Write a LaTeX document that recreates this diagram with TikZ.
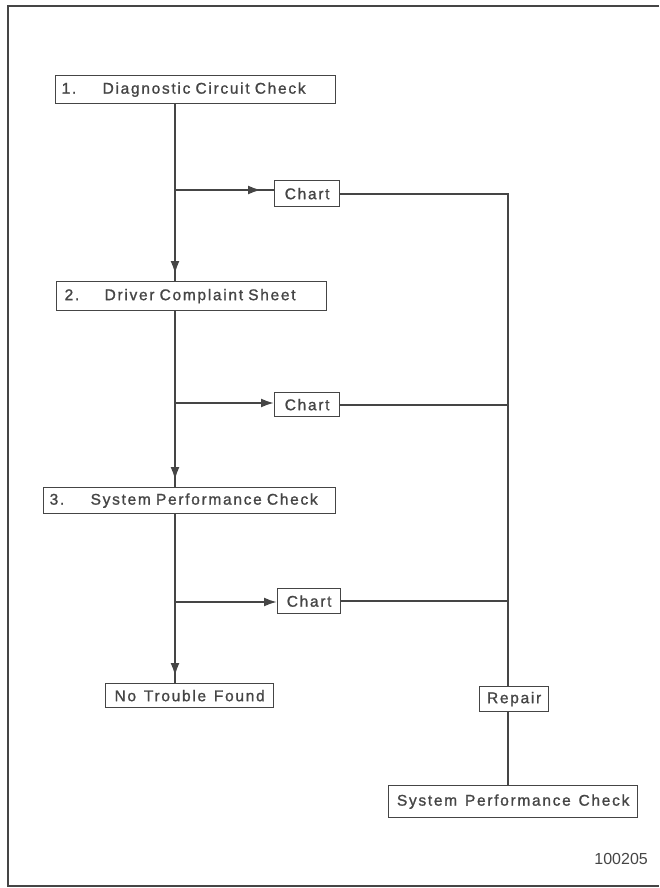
\documentclass[tikz,border=0pt]{standalone}
\usepackage{fontspec}
\setmainfont{Liberation Sans}[LetterSpace=11, FakeBold=1.2, WordSpace=1.3]
\newfontfamily\numfont{Liberation Sans}
\usetikzlibrary{arrows.meta,calc}
\definecolor{ink}{HTML}{454545}
\tikzset{
  box/.style={draw=ink, line width=1.3pt, text=ink, inner ysep=0pt, inner xsep=6pt,
    font=\fontsize{15.5}{17}\selectfont, anchor=north west},
  numbox/.style={box, align=left},
  conn/.style={draw=ink, line width=2pt},
  thin/.style={draw=ink, line width=1.8pt},
  tip/.style={conn, -{Latex[length=13pt,width=9pt]}},
}
\begin{document}
\begin{tikzpicture}[x=1pt,y=-1pt]
\useasboundingbox (0,0) rectangle (659,888);
% frame
\draw[ink, line width=1.6pt] (659,6) -- (8,6) -- (8,886) -- (659,886);
% guide coordinates
\coordinate (mx) at (175,0);
\coordinate (rx) at (508,0);
\coordinate (j1) at (175,190);
\coordinate (j2) at (175,403);
\coordinate (j3) at (175,602);
% numbered boxes
\node[numbox, text width=268pt, minimum height=28pt] (b1) at (55,75)
  {\makebox[41pt][l]{1.}Diagnostic Circuit Check};
\node[numbox, text width=254pt, minimum height=29pt, inner xsep=8pt] (b2) at (56,281)
  {\makebox[40pt][l]{2.}Driver Complaint Sheet};
\node[numbox, text width=280pt, minimum height=26pt] (b3) at (43,487)
  {\makebox[41pt][l]{3.}System Performance Check};
% chart boxes
\node[box, inner xsep=0pt, minimum width=65pt, minimum height=26pt] (c1) at (274,180) {Chart};
\node[box, inner xsep=0pt, minimum width=65pt, minimum height=24pt] (c2) at (274,392) {Chart};
\node[box, inner xsep=0pt, minimum width=63pt, minimum height=25pt] (c3) at (277,588) {Chart};
% end boxes
\node[box, inner xsep=0pt, minimum width=168pt, minimum height=24pt] (ntf) at (105,683) {No Trouble Found};
\node[box, inner xsep=0pt, minimum width=69pt, minimum height=25pt] (rep) at (479,686) {Repair};
\node[box, inner xsep=0pt, minimum width=249pt, minimum height=32pt] (spc) at (388,785) {System Performance Check};
\node[anchor=east, font=\numfont\fontsize{16}{18}\selectfont, text=ink, inner sep=0pt] (num) at (648,859) {100205};
% main trunk
\draw[conn] (b1.south -| mx) -- (b2.north -| mx);
\draw[tip] (b1.south -| mx) -- ($(b2.north -| mx)+(0,-7)$);
\draw[conn] (b2.south -| mx) -- (b3.north -| mx);
\draw[tip] (b2.south -| mx) -- ($(b3.north -| mx)+(0,-7)$);
\draw[conn] (b3.south -| mx) -- (ntf.north -| mx);
\draw[tip] (b3.south -| mx) -- ($(ntf.north -| mx)+(0,-7)$);
% branches to charts
\draw[conn] (j1) -- (j1 -| c1.west);
\draw[tip] (j1) -- ($(j1 -| c1.west)+(-13,0)$);
\draw[tip] (j2) -- (j2 -| c2.west);
\draw[tip] (j3) -- (j3 -| c3.west);
% charts to repair line
\draw[thin] (c1.east) -- (c1.east -| rx) -- (rep.north -| rx);
\draw[thin] (c2.east) -- (c2.east -| rx);
\draw[thin] (c3.east) -- (c3.east -| rx);
\draw[thin] (rep.south -| rx) -- (spc.north -| rx);
\end{tikzpicture}
\end{document}
